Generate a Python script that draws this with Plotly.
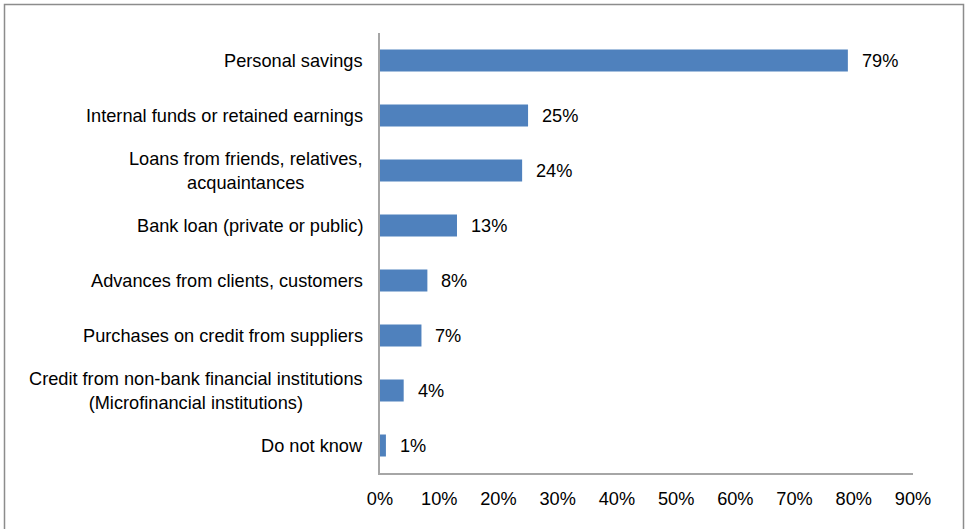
import plotly.graph_objects as go

# Sources of financing (share of respondents)
categories = [
    "Personal savings",
    "Internal funds or retained earnings",
    "Loans from friends, relatives,<br>acquaintances",
    "Bank loan (private or public)",
    "Advances from clients, customers",
    "Purchases on credit from suppliers",
    "Credit from non-bank financial institutions<br>(Microfinancial institutions)",
    "Do not know",
]
shares = [79, 25, 24, 13, 8, 7, 4, 1]
tick_values = [0, 10, 20, 30, 40, 50, 60, 70, 80, 90]
tick_labels = [f"{v}%" for v in tick_values]

FONT = "Liberation Sans, Arial, sans-serif"
FS = 18.2
BAR = "#4F81BD"
AXIS = "#A6A6A6"

W, H = 965, 529
ML, MR, MT, MB = 380, 52, 33, 56
pw, ph = W - ML - MR, H - MT - MB

fig = go.Figure(
    go.Bar(
        x=shares,
        y=categories,
        orientation="h",
        marker=dict(color=BAR, line=dict(width=0)),
        hoverinfo="skip",
    )
)

annotations = []
# Category labels, centred line by line, right-aligned to the axis
for cat in categories:
    annotations.append(dict(
        x=0, xref="paper", y=cat, yref="y",
        text=cat, showarrow=False, xanchor="right", yanchor="middle",
        align="center", xshift=-15,
        font=dict(family=FONT, size=FS, color="#000000"),
    ))
# Value labels next to each bar
for cat, v in zip(categories, shares):
    annotations.append(dict(
        x=v, xref="x", y=cat, yref="y",
        text=f"{v}%", showarrow=False, xanchor="left", yanchor="middle",
        xshift=12,
        font=dict(family=FONT, size=FS, color="#000000"),
    ))

# Outer chart frame
def px_x(p):
    return (p - ML) / pw

def px_y(p):
    return (H - MB - p) / ph

shapes = [dict(
    type="rect", xref="paper", yref="paper",
    x0=px_x(4.5), x1=px_x(963.5), y0=px_y(540), y1=px_y(4.5),
    line=dict(color="#8C8C8C", width=1.5), fillcolor="rgba(0,0,0,0)",
    layer="below",
)]

fig.update_layout(
    width=W, height=H,
    margin=dict(l=ML, r=MR, t=MT, b=MB, pad=0),
    paper_bgcolor="white", plot_bgcolor="white",
    bargap=0.6,
    showlegend=False,
    annotations=annotations,
    shapes=shapes,
    font=dict(family=FONT, size=FS, color="#000000"),
)
fig.update_xaxes(
    range=[0, 90], tickvals=tick_values, ticktext=tick_labels,
    showgrid=False, zeroline=False,
    showline=True, linecolor=AXIS, linewidth=1.5,
    ticks="outside", ticklen=8, tickcolor="rgba(0,0,0,0)",
    tickfont=dict(family=FONT, size=FS, color="#000000"),
    fixedrange=True,
)
fig.update_yaxes(
    autorange="reversed", showticklabels=False,
    showgrid=False, zeroline=False,
    showline=True, linecolor=AXIS, linewidth=1.5,
    ticks="", fixedrange=True,
)

fig.write_html("out.html", config={"displayModeBar": False})
